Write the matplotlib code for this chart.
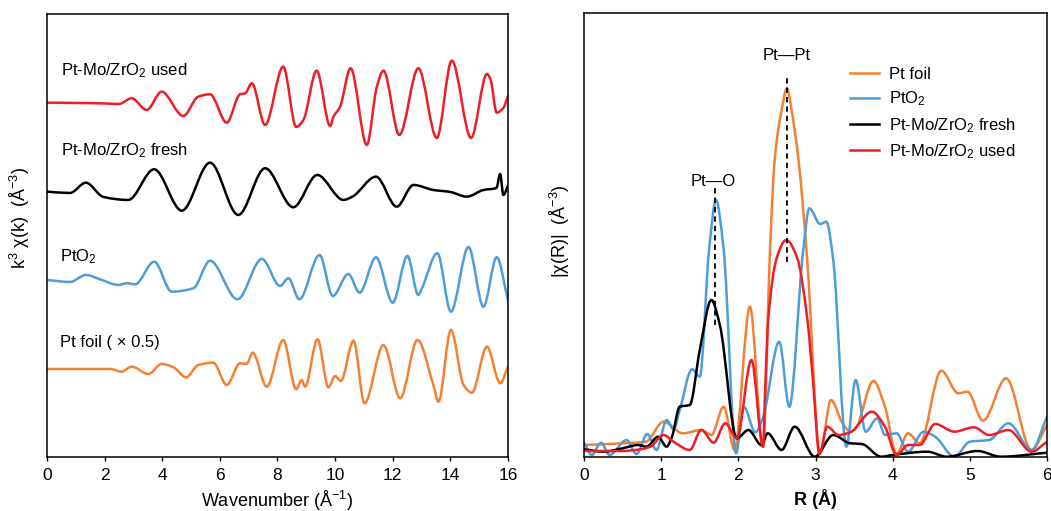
import numpy as np
import matplotlib
matplotlib.use("Agg")
import matplotlib.pyplot as plt
from matplotlib.path import Path
from matplotlib.patches import PathPatch
from matplotlib.lines import Line2D

plt.rcParams['font.family'] = ['Liberation Sans', 'DejaVu Sans']
plt.rcParams['mathtext.fontset'] = 'custom'
plt.rcParams['mathtext.rm'] = 'Liberation Sans'
plt.rcParams['mathtext.it'] = 'Liberation Sans:italic'
plt.rcParams['mathtext.bf'] = 'Liberation Sans:bold'

C_FOIL = '#F38033'
C_PTO2 = '#4C9DD8'
C_FRESH = '#000000'
C_USED = '#EE1D26'

# ---------------- left panel: k-space (values relative to each curve's baseline) -------------
k_used = [0, 1.0, 2.0, 2.5, 2.94, 3.46, 3.98, 4.73, 5.25, 5.66, 6.24, 6.70, 6.88, 7.11, 7.57,
          8.20, 8.65, 8.9, 9.36, 9.83, 9.94, 10.17, 10.54, 11.1, 11.45, 11.68, 12.23, 12.89,
          13.53, 14.05, 14.72, 15.27, 15.4, 15.61, 15.84, 16.0]
px_used = [102.7, 103, 103.5, 104, 98.3, 110, 91.7, 116, 96.7, 94.3, 122.7, 94.3, 93.3, 83.3, 125,
           66.7, 127, 120, 70.7, 126, 117, 107, 68.3, 145, 86.7, 70.7, 135, 68.3,
           138, 60.7, 138, 74, 80, 112.7, 108, 96]
k_fresh = [0, 0.8, 1.35, 1.96, 2.82, 3.72, 4.68, 5.66, 6.64, 7.57, 8.55, 9.38, 10.29, 10.6,
           11.42, 12.14, 12.72, 13.41, 14.0, 14.57, 15.15, 15.6, 15.73, 15.84, 16.0]
px_fresh = [191.7, 193, 182.7, 197, 200, 169.3, 210.7, 162.7, 215, 168.3, 207.3, 175, 200, 196.7,
            176.7, 206.7, 185, 190, 192, 196.7, 190, 188, 174, 195, 186]
k_pto2 = [0, 0.8, 1.35, 1.9, 2.48, 2.77, 3.06, 3.72, 4.33, 5.08, 5.66, 6.61, 7.46, 8.09, 8.38,
          8.76, 9.46, 9.92, 10.46, 10.85, 11.42, 12.0, 12.51, 12.89, 13.0, 13.55, 14.02, 14.63,
          15.15, 15.61, 16.0]
px_pto2 = [280, 282, 275, 280, 285, 283.3, 284.3, 261.7, 291.7, 288.3, 260.7, 299.3, 259, 286, 278.3,
           299.3, 255, 296, 274, 292.7, 257.3, 302.7, 256, 295, 289.3, 253.3, 311.7, 247,
           306.7, 257.3, 300]
k_foil = [0, 2.2, 2.59, 2.94, 3.52, 3.98, 4.39, 4.83, 5.25, 5.77, 6.24, 6.70, 6.93, 7.14, 7.63,
          8.20, 8.65, 8.84, 8.96, 9.39, 9.77, 10.0, 10.2, 10.64, 11.02, 11.68, 12.26, 12.86,
          13.41, 13.59, 14.02, 14.46, 14.75, 15.27, 15.73, 16.0]
px_foil = [369, 369, 371.7, 366.7, 374, 364, 367.3, 377.3, 365, 362.7, 385, 363.3, 364, 352.7, 386.7,
           340, 389.3, 380, 386.7, 339.3, 387.3, 376, 381, 340.7, 403.3, 345, 398.3, 340,
           385, 401.7, 330, 385, 392.7, 346.7, 383.3, 366.7]
# the curves were read as screen heights; chi values relative to the first point
chi_used = [px_used[0] - v for v in px_used]
chi_fresh = [px_fresh[0] - v for v in px_fresh]
chi_pto2 = [px_pto2[0] - v for v in px_pto2]
chi_foil = [px_foil[0] - v for v in px_foil]

k_labels = ["Pt-Mo/ZrO$_2$ used", "Pt-Mo/ZrO$_2$ fresh", "PtO$_2$", "Pt foil ( × 0.5)"]

# ---------------- right panel: R-space -------------
R_foil = [0, 0.5, 0.8, 1.03, 1.28, 1.52, 1.65, 1.81, 1.95, 2.15, 2.32, 2.41, 2.47, 2.56, 2.63,
          2.69, 2.78, 2.89, 3.06, 3.2, 3.35, 3.45, 3.52, 3.75, 3.9, 4.05, 4.2, 4.35, 4.63,
          4.85, 4.97, 5.17, 5.47, 5.8, 6.0]
F_foil = [12.3, 14, 15.6, 35.6, 24, 27.3, 22.3, 50.6, 7.3, 150.6, 10.6, 207, 297, 347, 369,
          347, 297, 200, 4, 57.3, 34, 25.7, 29, 76.3, 50.6, 3.3, 24, 14, 86.6,
          64, 65.6, 36.6, 79, 7.3, 32.3]
R_pto2 = [0, 0.1, 0.22, 0.33, 0.55, 0.68, 0.82, 0.94, 1.07, 1.16, 1.24, 1.40, 1.50, 1.62, 1.71,
          1.81, 1.97, 2.07, 2.22, 2.32, 2.53, 2.66, 2.84, 2.92, 3.06, 3.14, 3.23, 3.40, 3.52, 3.65,
          3.8, 3.9, 4.05, 4.2, 4.4, 4.55, 4.8, 5.0, 5.25, 5.5, 5.8, 6.0]
F_pto2 = [14.6, 2.3, 14.6, 2.3, 17.3, 3.3, 23.3, 7.3, 37.3, 28, 47.3, 88, 80.6, 207, 257.3,
          207, 4, 50.6, 25, 40, 115.6, 50.6, 207, 249, 233.3, 235.6, 197, 10.6, 77.3, 25.6,
          39, 22.3, 24, 5.6, 25.6, 20.6, 0.6, 15.6, 17.3, 34, 7.3, 40.6]
R_fresh = [0, 0.25, 0.5, 0.7, 0.81, 0.96, 1.07, 1.14, 1.24, 1.37, 1.50, 1.65, 1.76, 1.98, 2.13,
           2.30, 2.38, 2.56, 2.73, 2.99, 3.23, 3.45, 3.6, 3.85, 4.0, 4.45, 4.7, 5.1, 5.4, 6.0]
F_fresh = [8, 5.6, 9, 12.3, 10.6, 20.6, 10.6, 20.6, 50.6, 52.3, 107.3, 157.3, 132.3, 19, 27.3,
           12.3, 24, 7.3, 30.6, 0.6, 22.3, 14, 13.3, 0.6, 2.3, 5.6, 0.6, 6.3, 0.6, 4.6]
R_used = [0, 0.5, 0.73, 0.86, 1.03, 1.16, 1.37, 1.52, 1.68, 1.83, 1.98, 2.17, 2.32, 2.35, 2.39,
          2.50, 2.62, 2.76, 2.89, 2.97, 3.05, 3.15, 3.3, 3.45, 3.73, 3.9, 4.05, 4.2, 4.35, 4.55,
          4.8, 5.05, 5.25, 5.5, 5.8, 6.0]
F_used = [6.3, 6.3, 8, 10.6, 22.3, 15.6, 7.3, 27.3, 14.6, 34, 19, 97.3, 10.6, 74, 140.6,
          200, 217.3, 200, 140.6, 74, 3.3, 30.6, 22.3, 25, 45.6, 30.6, 2.3, 12.3, 12.3, 33.3,
          25.6, 30, 22.3, 27.3, 5.6, 15.6]
R_names = ["Pt foil", "PtO$_2$", "Pt-Mo/ZrO$_2$ fresh", "Pt-Mo/ZrO$_2$ used"]
peak_PtO_R = 1.70
peak_PtPt_R = 2.63


def smooth_path(x, y):
    """Cubic Bezier path through the read points (PCHIP-style tangents)."""
    x = np.asarray(x, float)
    y = np.asarray(y, float)
    n = len(x)
    h = np.diff(x)
    d = np.diff(y) / h
    m = np.zeros(n)
    m[0] = d[0]
    m[-1] = d[-1]
    for i in range(1, n - 1):
        if d[i - 1] * d[i] <= 0:
            m[i] = 0.0
        else:
            w1 = 2 * h[i] + h[i - 1]
            w2 = h[i] + 2 * h[i - 1]
            m[i] = (w1 + w2) / (w1 / d[i - 1] + w2 / d[i])
    verts = [(x[0], y[0])]
    codes = [Path.MOVETO]
    for i in range(n - 1):
        dx = h[i] / 3.0
        verts += [(x[i] + dx, y[i] + m[i] * dx),
                  (x[i + 1] - dx, y[i + 1] - m[i + 1] * dx),
                  (x[i + 1], y[i + 1])]
        codes += [Path.CURVE4] * 3
    return Path(verts, codes)


def draw(ax, x, y, color, lw=1.8, z=2):
    ax.add_patch(PathPatch(smooth_path(x, y), fill=False, edgecolor=color, lw=lw,
                           capstyle='round', joinstyle='round', zorder=z))


fig = plt.figure(figsize=(10.51, 5.11), dpi=100)
ax1 = fig.add_axes([0.0447, 0.1057, 0.4386, 0.867])
ax2 = fig.add_axes([0.5557, 0.1051, 0.4405, 0.8695])

# ---- left ----
offsets = [354.3, 265.3, 177.0, 88.0]
kdata = [(k_used, chi_used, C_USED), (k_fresh, chi_fresh, C_FRESH),
         (k_pto2, chi_pto2, C_PTO2), (k_foil, chi_foil, C_FOIL)]
for (kk, cc, col), off in zip(kdata, offsets):
    draw(ax1, kk, [off + c for c in cc], col)
label_pos = [(0.5, 386.0), (0.5, 306.0), (0.45, 200.0), (0.45, 114.5)]
for lab, (lx, ly) in zip(k_labels, label_pos):
    ax1.text(lx, ly, lab, fontsize=12, ha='left', va='center')
ax1.set_xlim(0, 16)
ax1.set_ylim(0, 443)
ax1.set_xticks(range(0, 17, 2))
ax1.set_yticks([])
ax1.set_xlabel("Wavenumber (Å$^{-1}$)", fontsize=13, labelpad=4)
ax1.set_ylabel("k$^3$ χ(k)  (Å$^{-3}$)", fontsize=13)
ax1.yaxis.set_label_coords(-0.032, 0.54)

# ---- right ----
rdata = [(R_foil, F_foil, C_FOIL), (R_pto2, F_pto2, C_PTO2),
         (R_fresh, F_fresh, C_FRESH), (R_used, F_used, C_USED)]
for z, (rr, ff, col) in enumerate(rdata):
    draw(ax2, rr, ff, col, z=2 + z * 0.1)
ax2.vlines(peak_PtPt_R, 195.6, 382, colors='k', linestyles=(0, (3, 2.2)), lw=1.3, zorder=5)
ax2.vlines(peak_PtO_R, 132.3, 271, colors='k', linestyles=(0, (3, 2.2)), lw=1.3, zorder=5)
ax2.text(peak_PtPt_R, 402, "Pt—Pt", fontsize=12, ha='center', va='center')
ax2.text(1.67, 276, "Pt—O", fontsize=12, ha='center', va='center')
ax2.set_xlim(0, 6)
ax2.set_ylim(0, 444.3)
ax2.set_xticks(range(0, 7))
ax2.set_yticks([])
ax2.set_xlabel("R (Å)", fontsize=13, fontweight='bold', labelpad=4)
ax2.set_ylabel("|χ(R)|  (Å$^{-3}$)", fontsize=13)
ax2.yaxis.set_label_coords(-0.026, 0.51)
handles = [Line2D([], [], color=c, lw=1.8) for c in (C_FOIL, C_PTO2, C_FRESH, C_USED)]
ax2.legend(handles, R_names, loc='upper left', bbox_to_anchor=(0.575, 0.878), frameon=False,
           fontsize=12, handlelength=1.7, handletextpad=0.6, labelspacing=0.45,
           borderpad=0, borderaxespad=0)

for ax in (ax1, ax2):
    for s in ax.spines.values():
        s.set_linewidth(1.1)
    ax.tick_params(axis='x', direction='out', length=3, width=1, labelsize=12.5, pad=5)

fig.savefig("out.png", dpi=100)
